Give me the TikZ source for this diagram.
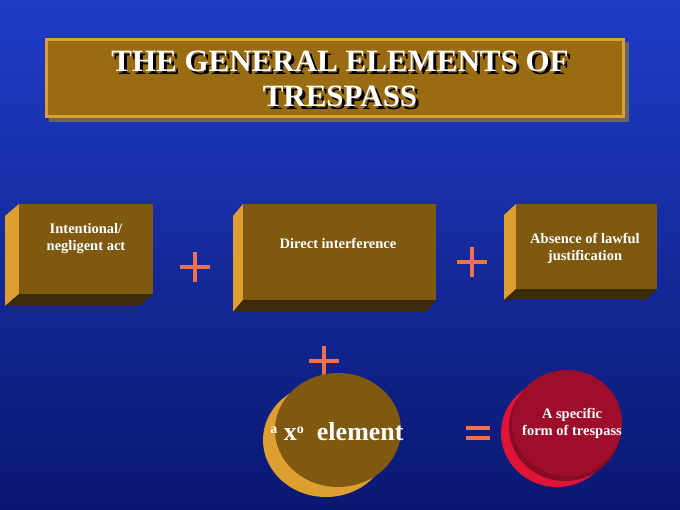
\documentclass[tikz,border=0pt]{standalone}
\usepackage{fontspec}
\setmainfont{Liberation Serif}
\usetikzlibrary{shapes.geometric}
\definecolor{bgtop}{HTML}{1F3CC8}
\definecolor{bgbot}{HTML}{0A1870}
\definecolor{gfront}{HTML}{7F5910}
\definecolor{gside}{HTML}{DDA030}
\definecolor{gbot}{HTML}{3C2B08}
\definecolor{tbox}{HTML}{9A6C12}
\definecolor{redf}{HTML}{9E0E2A}
\definecolor{redb}{HTML}{E01434}
\definecolor{plusc}{HTML}{F07050}
\tikzset{
  lbl/.style={text=white,font=\bfseries\fontsize{14.5}{17}\selectfont,align=center},
  signline/.style={draw=plusc,line width=3.5pt},
  ttl/.style={font=\bfseries\fontsize{31}{35}\selectfont,align=center},
}
\newcommand{\mybox}[7]{% name, x1,y1,x2,y2, dx,dy
  \fill[gside] (#2,#3) -- (#2+#6,#3-#7) -- (#2+#6,#5-#7) -- (#2,#5) -- cycle;
  \fill[gbot] (#2,#5) -- (#2+#6,#5-#7) -- (#4+#6,#5-#7) -- (#4,#5) -- cycle;
  \fill[gfront] (#2,#3) rectangle (#4,#5);
  \coordinate (#1) at ({(#2+#4)/2},{(#3+#5)/2});
}
\newcommand{\plussign}[3]{% name, x, y
  \coordinate (#1) at (#2,#3);
  \draw[signline] ([xshift=-15pt]#1) -- ([xshift=15pt]#1);
  \draw[signline] ([yshift=-15pt]#1) -- ([yshift=15pt]#1);
}
\begin{document}
\begin{tikzpicture}[x=1pt,y=-1pt]
\useasboundingbox (0,0) rectangle (680,510);
\shade[top color=bgtop,bottom color=bgbot] (0,0) rectangle (680,510);
% title
\fill[black!60] (49,42) rectangle (629,122);
\fill[gside] (45,38) rectangle (625,118);
\fill[tbox] (48,41) rectangle (622,115);
\node[text=black,ttl] at (343,82) {THE GENERAL ELEMENTS OF\\TRESPASS};
\node (title) [text=white,ttl] at (340,79) {THE GENERAL ELEMENTS OF\\TRESPASS};
% boxes
\mybox{b1}{19}{204}{153}{294}{-14}{-12}
\node (t1) [lbl] at (86,239) {Intentional/\\negligent act};
\mybox{b2}{243}{204}{436}{300}{-10}{-12}
\node (t2) [lbl] at (338,243) {Direct interference};
\mybox{b3}{516}{204}{657}{289}{-12}{-11}
\node (t3) [lbl] at (585,248) {Absence of lawful\\justification};
% signs
\plussign{p1}{195}{267}
\plussign{p2}{472}{262}
\plussign{p3}{324}{361}
\coordinate (eq) at (478,433);
\draw[signline] ([xshift=-12pt,yshift=-5pt]eq) -- ([xshift=12pt,yshift=-5pt]eq);
\draw[signline] ([xshift=-12pt,yshift=5pt]eq) -- ([xshift=12pt,yshift=5pt]eq);
% gold disc
\fill[gside] (326,440) ellipse [x radius=63,y radius=57];
\fill[gfront] (338,430) ellipse [x radius=63,y radius=57];
\node (e1) [text=white,font=\bfseries\fontsize{26}{28}\selectfont] at (337,432) {\raisebox{0.6ex}{\fontsize{14}{14}\selectfont a} x\raisebox{0.6ex}{\fontsize{14}{14}\selectfont o}\ \ element};
% red disc
\fill[redb] (557,433) ellipse [x radius=56,y radius=54];
\fill[redf!85!black] (565,427) ellipse [x radius=56,y radius=54];
\fill[redf] (567,423) ellipse [x radius=55,y radius=53];
\node (e2) [lbl] at (572,423) {A specific\\form of trespass};
\end{tikzpicture}
\end{document}
